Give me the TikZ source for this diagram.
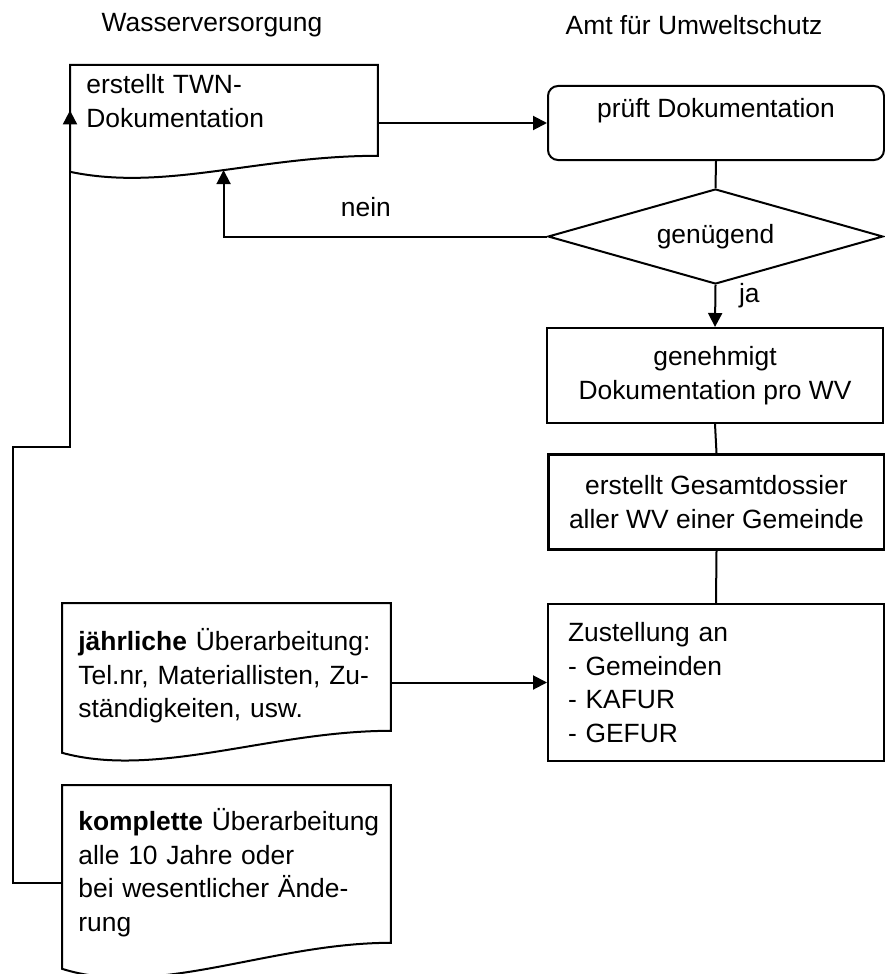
\documentclass[tikz,border=0pt]{standalone}
\usepackage{fontspec}
\setmainfont{Liberation Sans}
\usetikzlibrary{calc}
\usetikzlibrary{arrows.meta}
\usetikzlibrary{shapes.geometric}

\tikzset{
  flow/.style={line width=1pt},
  arr/.style={flow, -{Triangle[length=7pt,width=7pt]}},
  box/.style={draw, line width=1pt, anchor=north west, inner sep=0pt, minimum width=168pt, align=center},
  docbox/.style={anchor=north west, inner xsep=8pt, inner ysep=0pt, minimum width=164pt, text width=148pt, align=left},
}

% document shape: wavy bottom, #2 = drop of the left corner
\newcommand\docshape[2]{%
  \draw[flow] ($(#1.south west)+(0,#2)$) -- (#1.north west) -- (#1.north east) -- (#1.south east)
    .. controls +(-120,0) and +(95,#2+4) .. ($(#1.south west)+(0,#2)$) coordinate[pos=.47] (#1-wave) -- cycle;}

\begin{document}
\begin{tikzpicture}[x=0.5pt,y=-0.5pt,font=\fontsize{13.2}{16.8}\selectfont]

\useasboundingbox (0,0) rectangle (884,974);

\node (wv)  at (212,25) {Wasserversorgung};
\node (afu) at (694,25) {Amt für Umweltschutz};

% Wasserversorgung
\node[docbox, minimum width=153.5pt, text width=137.5pt, minimum height=45pt, text depth=26pt] (twn) at (70,65) {erstellt TWN-\\Dokumentation};
\node[docbox, minimum height=63.5pt, text height=20pt] (jaehrlich) at (62,603) {\textbf{jährliche} Überarbeitung:\\Tel.nr, Materiallisten, Zu-\\ständigkeiten, usw.};
\node[docbox, minimum height=78.5pt, text height=20pt] (komplett) at (62,785) {\mbox{\textbf{komplette} Überarbeitung}\\alle 10 Jahre oder\\bei wesentlicher Ände-\\rung};

\docshape{twn}{16}
\docshape{jaehrlich}{22}
\docshape{komplett}{26}

% Amt fuer Umweltschutz
\node[box, rounded corners=5pt, minimum height=37pt, text depth=15pt] (pruef) at (547,85) {prüft Dokumentation};
\node[draw, flow, diamond, aspect=3.5, inner sep=0pt, minimum width=167.5pt, minimum height=47.5pt] (genuegend) at (715.5,236.5) {genügend};
\node[box, minimum height=47.5pt] (genehmigt) at (546,327) {genehmigt\\Dokumentation pro WV};
\node[box, line width=1.5pt, minimum height=47.5pt] (gesamt) at (547,453) {erstellt Gesamtdossier\\aller WV einer Gemeinde};
\node[box, minimum height=78.5pt, inner xsep=10pt, text width=148pt, align=left] (zustellung) at (547,603) {Zustellung an\\- Gemeinden\\- KAFUR\\- GEFUR};

\coordinate (kbend) at (13,447);

\draw[arr] (pruef.west -| twn.east) -- (pruef.west);
\draw[flow] (pruef.south) -- (genuegend.north);
\draw[arr] (genuegend.west) -| (twn-wave) node[above=6pt, pos=.28] (nein) {nein};
\draw[arr] (genuegend.south) -- (genehmigt.north) node[right=8pt, pos=.26] (ja) {ja};
\draw[flow] (genehmigt.south) -- (gesamt.north);
\draw[flow] (gesamt.south) -- (zustellung.north);
\draw[arr] (zustellung.west -| jaehrlich.east) -- (zustellung.west);
\draw[arr] ([yshift=-9.75pt]komplett.west) -| (kbend) -| (twn.west);

\end{tikzpicture}
\end{document}
